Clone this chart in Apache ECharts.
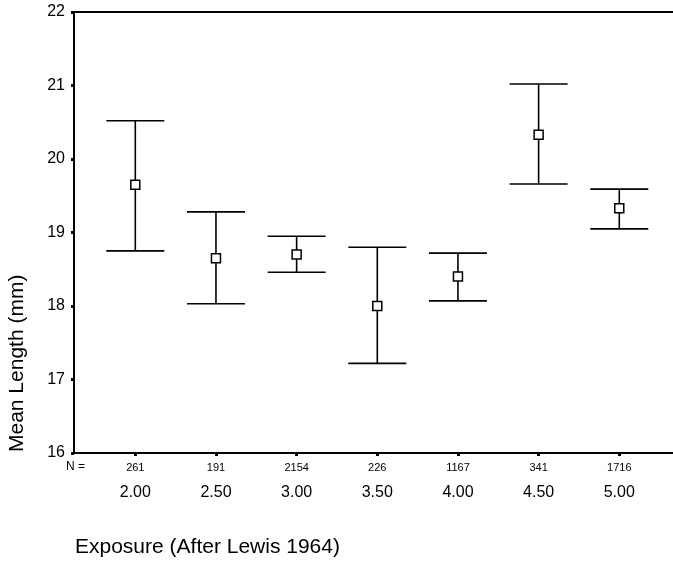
<!DOCTYPE html>
<html>
<head>
<meta charset="utf-8">
<script src="https://cdn.jsdelivr.net/npm/echarts@6/dist/echarts.min.js"></script>
<style>html,body{margin:0;padding:0;background:#fff}#c{width:673px;height:561px}</style>
</head>
<body>
<div id="c"></div>
<script>
var exposure = [2.0, 2.5, 3.0, 3.5, 4.0, 4.5, 5.0];
var exposureLabels = ['2.00', '2.50', '3.00', '3.50', '4.00', '4.50', '5.00'];
var nCounts = ['261', '191', '2154', '226', '1167', '341', '1716'];
var means = [19.65, 18.65, 18.70, 18.00, 18.40, 20.33, 19.33];
var lower = [18.75, 18.03, 18.46, 17.22, 18.07, 19.66, 19.05];
var upper = [20.52, 19.28, 18.95, 18.80, 18.72, 21.02, 19.59];
var yTicks = [16, 17, 18, 19, 20, 21, 22];

var FONT = '"Liberation Sans", Arial, sans-serif';
var chart = echarts.init(document.getElementById('c'));

function idx(v) {
  for (var i = 0; i < exposure.length; i++) if (Math.abs(exposure[i] - v) < 1e-6) return i;
  return -1;
}

var barData = exposure.map(function (x, i) { return [x, lower[i], upper[i]]; });
var meanData = exposure.map(function (x, i) { return [x, means[i]]; });

var option = {
  animation: false,
  backgroundColor: '#fff',
  grid: { left: 74, right: 0, top: 12, bottom: 108, containLabel: false },
  xAxis: [{
    type: 'value', min: 1.62, max: 5.333,
    axisLine: { show: true, onZero: false, lineStyle: { color: '#000', width: 2 } },
    axisTick: { show: true, customValues: exposure, length: 3, inside: false, lineStyle: { color: '#000', width: 3 } },
    axisLabel: {
      show: true, customValues: exposure, margin: 9,
      fontFamily: FONT, fontSize: 11, color: '#000',
      formatter: function (v) { var i = idx(v); return i >= 0 ? nCounts[i] : ''; }
    },
    splitLine: { show: false }
  }, {
    type: 'value', min: 1.62, max: 5.333, position: 'bottom',
    axisLine: { show: false },
    axisTick: { show: false },
    axisLabel: {
      show: true, customValues: exposure, margin: 32,
      fontFamily: FONT, fontSize: 16, color: '#000',
      formatter: function (v) { var i = idx(v); return i >= 0 ? exposureLabels[i] : ''; }
    },
    splitLine: { show: false }
  }, {
    type: 'value', min: 1.62, max: 5.333, position: 'top',
    axisLine: { show: true, lineStyle: { color: '#000', width: 2 } },
    axisTick: { show: false }, axisLabel: { show: false }, splitLine: { show: false }
  }],
  yAxis: {
    type: 'value', min: 16, max: 22, interval: 1,
    axisLine: { show: true, onZero: false, lineStyle: { color: '#000', width: 2 } },
    axisTick: { show: true, length: 3, lineStyle: { color: '#000', width: 3 } },
    axisLabel: {
      margin: 9, fontFamily: FONT, fontSize: 16, color: '#000',
      formatter: function (v) { return yTicks.indexOf(v) >= 0 ? String(v) : ''; }
    },
    splitLine: { show: false }
  },
  graphic: [
    { type: 'text', x: 66, y: 467, style: { text: 'N =', font: '12px ' + FONT, fill: '#000', align: 'left', verticalAlign: 'middle' } },
    { type: 'text', x: 75, y: 547, style: { text: 'Exposure (After Lewis 1964)', font: '21px ' + FONT, fill: '#000', align: 'left', verticalAlign: 'middle' } },
    { type: 'text', x: 17, y: 452, rotation: Math.PI / 2, style: { text: 'Mean Length (mm)', font: '21px ' + FONT, fill: '#000', align: 'left', verticalAlign: 'middle' } }
  ],
  series: [{
    type: 'custom',
    xAxisIndex: 0,
    data: barData,
    renderItem: function (params, api) {
      var x = api.value(0);
      var lo = api.coord([x, api.value(1)]);
      var hi = api.coord([x, api.value(2)]);
      var hw = 29;
      var st = { stroke: '#000', lineWidth: 1.6 };
      return {
        type: 'group',
        children: [
          { type: 'line', shape: { x1: hi[0], y1: hi[1], x2: lo[0], y2: lo[1] }, style: st },
          { type: 'line', shape: { x1: hi[0] - hw, y1: hi[1], x2: hi[0] + hw, y2: hi[1] }, style: st },
          { type: 'line', shape: { x1: lo[0] - hw, y1: lo[1], x2: lo[0] + hw, y2: lo[1] }, style: st }
        ]
      };
    },
    z: 2
  }, {
    type: 'scatter',
    xAxisIndex: 0,
    data: meanData,
    symbol: 'rect',
    symbolSize: 9,
    itemStyle: { color: '#fff', borderColor: '#000', borderWidth: 1.5, opacity: 1 },
    z: 3
  }]
};
chart.setOption(option);
</script>
</body>
</html>
